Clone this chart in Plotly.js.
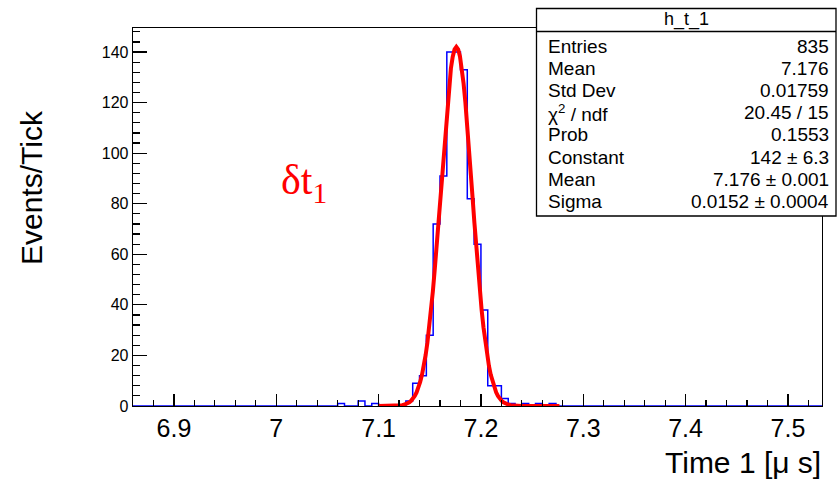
<!DOCTYPE html>
<html><head><meta charset="utf-8">
<script src="https://cdn.plot.ly/plotly-3.0.1.min.js"></script>
<style>html,body{margin:0;padding:0;background:#fff;}#chart{width:837px;height:482px;}</style>
</head><body><div id="chart"></div>
<script>
// ---- data ----
const binWidth = 1 / 150;            // one tick per bin (µs)
const histLow = 6.86;
const histHigh = 7.5333;
const binLowEdges = [7.0600, 7.0800, 7.0933, 7.1267, 7.1333, 7.1400, 7.1467, 7.1533, 7.1600, 7.1667,
                     7.1733, 7.1800, 7.1867, 7.1933, 7.2000, 7.2067, 7.2133, 7.2200, 7.2267, 7.2400,
                     7.2533, 7.2667];
const binCounts   = [1, 2, 1, 2, 9, 12, 28, 72, 91, 140,
                     140, 133, 82, 64, 38, 8, 8, 3, 1, 1,
                     1, 1];
const fitConstant = 142;
const fitMean = 7.176;
const fitSigma = 0.0152;
const fitRange = [7.1, 7.2767];
const xTickVals = [6.9, 7.0, 7.1, 7.2, 7.3, 7.4, 7.5];
const xTickText = ['6.9', '7', '7.1', '7.2', '7.3', '7.4', '7.5'];
const yTickVals = [0, 20, 40, 60, 80, 100, 120, 140];
const statTitle = 'h_t_1';
const statLabels = ['Entries', 'Mean', 'Std Dev', 'χ<sup>2</sup> / ndf', 'Prob', 'Constant', 'Mean', 'Sigma'];
const statValues = ['835', '7.176', '0.01759', '20.45 / 15', '0.1553', '142 ± 6.3', '7.176 ± 0.001', '0.0152 ± 0.0004'];
const xTitle = 'Time 1 [μ s]';
const yTitle = 'Events/Tick';

// ---- build histogram outline ----
const nBins = Math.round((histHigh - histLow) / binWidth);
const counts = new Array(nBins).fill(0);
binLowEdges.forEach((e, i) => { counts[Math.round((e - histLow) / binWidth)] = binCounts[i]; });
const hx = [], hy = [];
for (let i = 0; i < nBins; i++) { hx.push(histLow + i * binWidth); hy.push(counts[i]); }
hx.push(histLow + nBins * binWidth); hy.push(counts[nBins - 1]);

// ---- fit function (gaussian with fitted parameters) ----
const fx = [], fy = [];
const nFit = 100;
for (let i = 0; i <= nFit; i++) {
  const x = fitRange[0] + (fitRange[1] - fitRange[0]) * i / nFit;
  fx.push(x);
  fy.push(fitConstant * Math.exp(-0.5 * Math.pow((x - fitMean) / fitSigma, 2)));
}

// ---- geometry helpers (pixel -> paper) ----
const L = 133, R = 822, T = 28, B = 406, W = 837, H = 482;
const px = x => (x - L) / (R - L);
const py = y => (B - y) / (B - T);

const font = 'Liberation Sans, Arial, Helvetica, sans-serif';
const annotations = [];
const shapes = [];

// stats box
shapes.push({type: 'rect', xref: 'paper', yref: 'paper', x0: px(536.5), x1: px(836), y0: py(216), y1: py(8.5),
  line: {color: '#000', width: 1.3}, fillcolor: '#fff', layer: 'above'});
shapes.push({type: 'line', xref: 'paper', yref: 'paper', x0: px(536.5), x1: px(836), y0: py(31.5), y1: py(31.5),
  line: {color: '#000', width: 1.3}, layer: 'above'});
annotations.push({xref: 'paper', yref: 'paper', x: px(686), y: py(19), text: statTitle, showarrow: false,
  xanchor: 'center', yanchor: 'middle', font: {family: font, size: 18, color: '#000'}});
statLabels.forEach((lab, i) => {
  const yc = 46.5 + i * 22.1;
  annotations.push({xref: 'paper', yref: 'paper', x: px(546), y: py(yc), text: lab, showarrow: false,
    xanchor: 'left', yanchor: 'middle', font: {family: font, size: 19, color: '#000'}});
  annotations.push({xref: 'paper', yref: 'paper', x: px(831), y: py(yc), text: statValues[i], showarrow: false,
    xanchor: 'right', yanchor: 'middle', font: {family: font, size: 19, color: '#000'}});
});

// axis titles
annotations.push({xref: 'paper', yref: 'paper', x: px(823), y: py(463), text: xTitle, showarrow: false,
  xanchor: 'right', yanchor: 'middle', font: {family: font, size: 30, color: '#000'}});
annotations.push({xref: 'paper', yref: 'paper', x: px(31), y: py(188), text: yTitle, showarrow: false, textangle: -90,
  xanchor: 'center', yanchor: 'middle', font: {family: font, size: 30, color: '#000'}});
// delta t1 label
annotations.push({xref: 'paper', yref: 'paper', x: px(304), y: py(183), text: 'δt<sub>1</sub>', showarrow: false,
  xanchor: 'center', yanchor: 'middle', font: {family: 'Liberation Serif, Times New Roman, serif', size: 42, color: '#ff0000'}});

const data = [
  {x: hx, y: hy, type: 'scatter', mode: 'lines', line: {shape: 'hv', color: '#0000ff', width: 1.5}, hoverinfo: 'skip'},
  {x: fx, y: fy, type: 'scatter', mode: 'lines', line: {color: '#ff0000', width: 4}, hoverinfo: 'skip'}
];

const layout = {
  width: W, height: H,
  margin: {l: L, r: W - R, t: T, b: H - B},
  paper_bgcolor: '#fff', plot_bgcolor: '#fff',
  showlegend: false,
  xaxis: {
    range: [histLow, histHigh], tickmode: 'array', tickvals: xTickVals, ticktext: xTickText,
    ticks: 'inside', ticklen: 12, tickwidth: 1.2, tickcolor: '#000',
    showline: true, linecolor: '#000', linewidth: 1.3, mirror: true,
    showgrid: false, zeroline: false,
    tickfont: {family: font, size: 25, color: '#000'},
    minor: {dtick: 0.02, tick0: 6.9, ticks: 'inside', ticklen: 6, tickwidth: 1.2, tickcolor: '#000', showgrid: false}
  },
  yaxis: {
    range: [0, 149.5], tickmode: 'array', tickvals: yTickVals,
    ticks: 'inside', ticklen: 14, tickwidth: 1.2, tickcolor: '#000',
    showline: true, linecolor: '#000', linewidth: 1.3, mirror: true,
    showgrid: false, zeroline: false,
    tickfont: {family: font, size: 16, color: '#000'},
    minor: {dtick: 4, tick0: 0, ticks: 'inside', ticklen: 7, tickwidth: 1.2, tickcolor: '#000', showgrid: false}
  },
  shapes: shapes,
  annotations: annotations
};

Plotly.newPlot('chart', data, layout, {staticPlot: true, displayModeBar: false});
</script>
</body></html>
